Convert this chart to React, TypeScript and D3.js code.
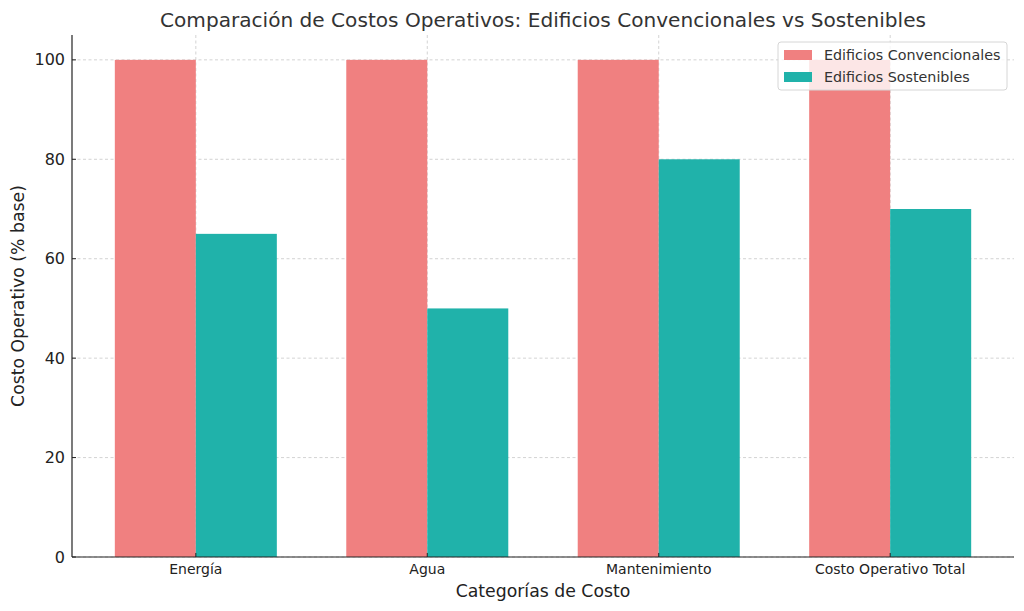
import React, { useEffect, useRef } from "react";
import * as d3 from "d3";

// data
const categories = ["Energía", "Agua", "Mantenimiento", "Costo Operativo Total"];
const convencionales = [100, 100, 100, 100];
const sostenibles = [65, 50, 80, 70];
const seriesNames = ["Edificios Convencionales", "Edificios Sostenibles"];
const yTicks = [0, 20, 40, 60, 80, 100];

const colors = ["#F08080", "#20B2AA"];

const App = () => {
    const ref = useRef<SVGSVGElement>(null);

    useEffect(() => {
        const width = 1024;
        const height = 611;
        const margin = { top: 35, right: 10, bottom: 54, left: 72 };
        const font = "DejaVu Sans, sans-serif";
        const textColor = "#333";

        const svg = d3.select(ref.current);
        svg.selectAll("*").remove();

        const barW = 0.35;
        // matplotlib-like x limits with 5% margin
        const x = d3.scaleLinear()
            .domain([-barW - 0.185, categories.length - 1 + barW + 0.185])
            .range([margin.left, width - margin.right]);

        const y = d3.scaleLinear()
            .domain([0, 105])
            .range([height - margin.bottom, margin.top]);

        const g = svg.append("g");

        // grid
        g.selectAll(".hgrid")
            .data(yTicks)
            .enter()
            .append("line")
            .attr("x1", margin.left)
            .attr("x2", width - margin.right)
            .attr("y1", d => y(d))
            .attr("y2", d => y(d))
            .attr("stroke", "#c8c8c8")
            .attr("stroke-width", 0.8)
            .attr("stroke-dasharray", "3,2.5");

        g.selectAll(".vgrid")
            .data(categories)
            .enter()
            .append("line")
            .attr("x1", (d, i) => x(i))
            .attr("x2", (d, i) => x(i))
            .attr("y1", margin.top)
            .attr("y2", height - margin.bottom)
            .attr("stroke", "#c8c8c8")
            .attr("stroke-width", 0.8)
            .attr("stroke-dasharray", "3,2.5");

        // bars
        const series = [convencionales, sostenibles];
        series.forEach((vals, s) => {
            g.selectAll(".bar" + s)
                .data(vals)
                .enter()
                .append("rect")
                .attr("x", (d, i) => x(i - barW + s * barW))
                .attr("width", x(barW) - x(0))
                .attr("y", d => y(d))
                .attr("height", d => y(0) - y(d))
                .attr("fill", colors[s]);
        });

        // axes spines
        g.append("line")
            .attr("x1", margin.left).attr("x2", margin.left)
            .attr("y1", margin.top).attr("y2", height - margin.bottom)
            .attr("stroke", "#222").attr("stroke-width", 1.2);
        g.append("line")
            .attr("x1", margin.left).attr("x2", width - margin.right)
            .attr("y1", height - margin.bottom).attr("y2", height - margin.bottom)
            .attr("stroke", "#222").attr("stroke-width", 1.2);

        // y ticks
        yTicks.forEach(t => {
            g.append("line")
                .attr("x1", margin.left).attr("x2", margin.left + 4)
                .attr("y1", y(t)).attr("y2", y(t))
                .attr("stroke", "#222");
            g.append("text")
                .attr("x", margin.left - 7)
                .attr("y", y(t))
                .attr("dy", "0.35em")
                .attr("text-anchor", "end")
                .attr("font-family", font)
                .attr("font-size", 16)
                .attr("fill", "#222")
                .text(t);
        });

        // x ticks
        categories.forEach((c, i) => {
            g.append("line")
                .attr("x1", x(i)).attr("x2", x(i))
                .attr("y1", height - margin.bottom).attr("y2", height - margin.bottom - 4)
                .attr("stroke", "#222");
            g.append("text")
                .attr("x", x(i))
                .attr("y", height - margin.bottom + 17)
                .attr("text-anchor", "middle")
                .attr("font-family", font)
                .attr("font-size", 14)
                .attr("fill", "#222")
                .text(c);
        });

        // axis labels
        svg.append("text")
            .attr("x", (margin.left + width - margin.right) / 2)
            .attr("y", 597)
            .attr("text-anchor", "middle")
            .attr("font-family", font)
            .attr("font-size", 17.3)
            .attr("fill", "#222")
            .text("Categorías de Costo");

        svg.append("text")
            .attr("transform", "translate(24," + (margin.top + height - margin.bottom) / 2 + ") rotate(-90)")
            .attr("text-anchor", "middle")
            .attr("font-family", font)
            .attr("font-size", 17.3)
            .attr("fill", "#222")
            .text("Costo Operativo (% base)");

        // title
        svg.append("text")
            .attr("x", (margin.left + width - margin.right) / 2)
            .attr("y", 27)
            .attr("text-anchor", "middle")
            .attr("font-family", font)
            .attr("font-size", 20.1)
            .attr("fill", textColor)
            .text("Comparación de Costos Operativos: Edificios Convencionales vs Sostenibles");

        // legend
        const legend = svg.append("g").attr("transform", "translate(778,42)");
        legend.append("rect")
            .attr("width", 229)
            .attr("height", 48)
            .attr("rx", 3)
            .attr("fill", "white")
            .attr("fill-opacity", 0.8)
            .attr("stroke", "#d6d6d6");
        seriesNames.forEach((n, i) => {
            legend.append("rect")
                .attr("x", 6)
                .attr("y", 8 + i * 22)
                .attr("width", 28)
                .attr("height", 10)
                .attr("fill", colors[i]);
            legend.append("text")
                .attr("x", 46)
                .attr("y", 13 + i * 22)
                .attr("dy", "0.35em")
                .attr("font-family", font)
                .attr("font-size", 14.3)
                .attr("fill", textColor)
                .text(n);
        });
    }, []);

    return (
        <svg
            ref={ref}
            width={1024}
            height={611}
            style={{ position: "absolute", left: 0, top: 0, background: "white" }}
        />
    );
};

export default App;
